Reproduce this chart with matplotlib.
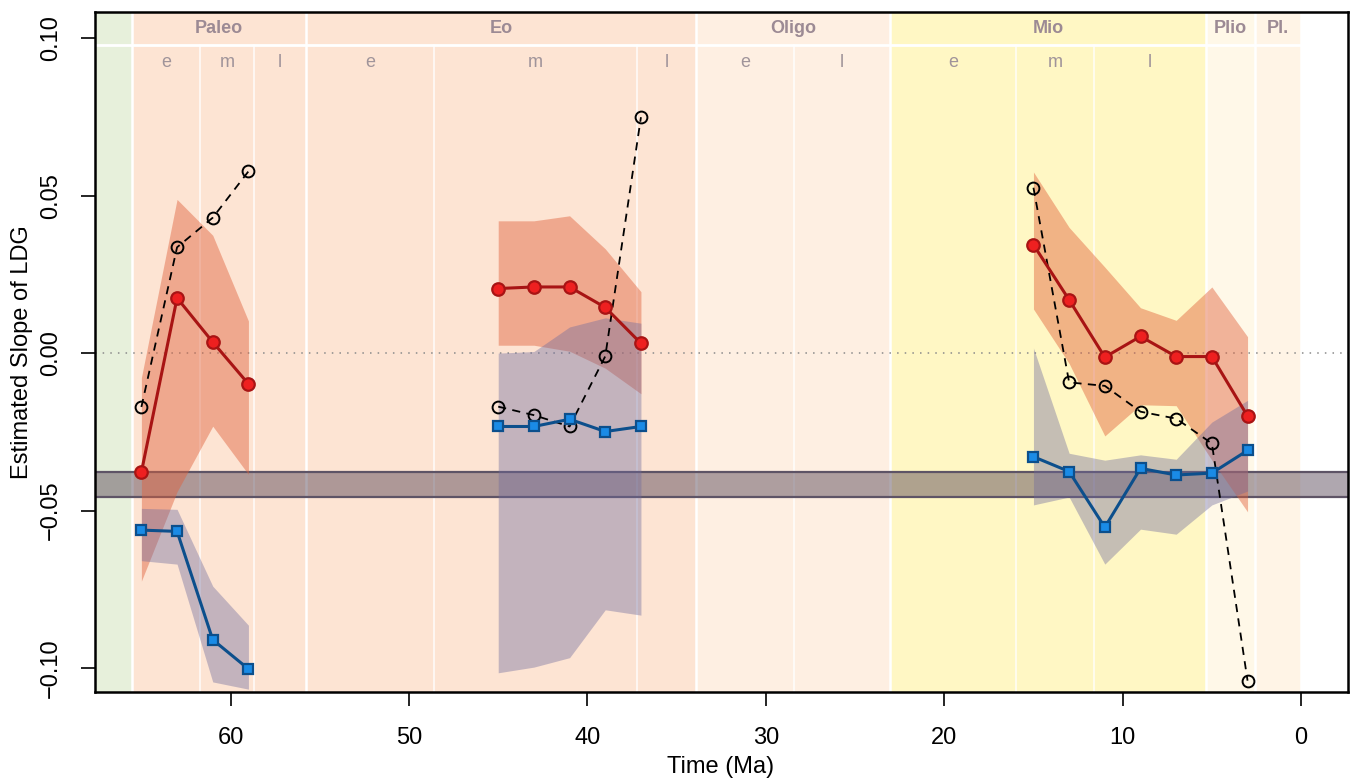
import matplotlib
matplotlib.use("Agg")
import matplotlib.pyplot as plt
from matplotlib.patches import Rectangle

plt.rcParams['font.family'] = ['Liberation Sans', 'DejaVu Sans']

# time bins (Ma), in three separate windows
timePaleo = [65, 63, 61, 59]
timeEo = [45, 43, 41, 39, 37]
timeMio = [15, 13, 11, 9, 7, 5, 3]

# red series (estimate + ribbon)
redPaleo = [-0.0378, 0.0175, 0.0035, -0.0098]
redEo = [0.0205, 0.0210, 0.0210, 0.0145, 0.0031]
redMio = [0.0344, 0.0169, -0.0013, 0.0053, -0.0011, -0.0011, -0.0200]
redHiPaleo = [-0.0078, 0.0488, 0.0374, 0.0102]
redHiEo = [0.0420, 0.0420, 0.0436, 0.0331, 0.0195]
redHiMio = [0.0575, 0.0399, 0.0273, 0.0144, 0.0104, 0.0210, 0.0052]
redLoPaleo = [-0.0724, -0.0440, -0.0232, -0.0385]
redLoEo = [0.0025, 0.0025, 0.0006, -0.0048, -0.0129]
redLoMio = [0.0140, -0.0033, -0.0263, -0.0164, -0.0167, -0.0340, -0.0504]

# blue series (estimate + ribbon)
bluePaleo = [-0.0562, -0.0566, -0.0910, -0.1003]
blueEo = [-0.0233, -0.0233, -0.0210, -0.0249, -0.0233]
blueMio = [-0.0329, -0.0376, -0.0553, -0.0366, -0.0387, -0.0381, -0.0309]
blueHiPaleo = [-0.0493, -0.0496, -0.0740, -0.0864]
blueHiEo = [0.0000, 0.0005, 0.0083, 0.0112, 0.0095]
blueHiMio = [0.0016, -0.0318, -0.0340, -0.0323, -0.0337, -0.0219, -0.0150]
blueLoPaleo = [-0.0659, -0.0670, -0.1044, -0.1067]
blueLoEo = [-0.1015, -0.0997, -0.0967, -0.0815, -0.0832]
blueLoMio = [-0.0482, -0.0457, -0.0670, -0.0559, -0.0575, -0.0482, -0.0438]

# black dashed series
rawPaleo = [-0.0171, 0.0336, 0.0430, 0.0577]
rawEo = [-0.0170, -0.0197, -0.0233, -0.0010, 0.0749]
rawMio = [0.0525, -0.0093, -0.0104, -0.0186, -0.0208, -0.0287, -0.1040]

# horizontal reference band
bandLow, bandHigh = -0.0457, -0.0378

# geologic time scale
epochNames = ['Paleo', 'Eo', 'Oligo', 'Mio', 'Plio', 'Pl.']
epochStart = [65.5, 55.8, 33.9, 23.03, 5.332, 2.588]
epochEnd = [55.8, 33.9, 23.03, 5.332, 2.588, 0.0]
epochColors = ['#FDE4D3', '#FDE4D3', '#FEEFE2', '#FFF7C4', '#FFF8E8', '#FFF4E6']
subBounds = [[65.5, 61.7, 58.7, 55.8], [55.8, 48.6, 37.2, 33.9],
             [33.9, 28.4, 23.03], [23.03, 15.97, 11.61, 5.332], [], []]
subNames = [['e', 'm', 'l'], ['e', 'm', 'l'], ['e', 'l'], ['e', 'm', 'l'], [], []]
cretColor = '#E7F0DB'

xLeft, xRight = 67.6, -2.63
yLow, yHigh = -0.1076, 0.1083
rowLine = 0.0978

fig = plt.figure(figsize=(13.55, 7.81), dpi=100)
ax = fig.add_axes([95 / 1355, 89 / 781, 1253 / 1355, 680 / 781])
ax.set_xlim(xLeft, xRight)
ax.set_ylim(yLow, yHigh)

# backgrounds
ax.add_patch(Rectangle((epochStart[0], yLow), xLeft - epochStart[0], yHigh - yLow,
                       facecolor=cretColor, edgecolor='none', zorder=0))
for i in range(len(epochNames)):
    ax.add_patch(Rectangle((epochEnd[i], yLow), epochStart[i] - epochEnd[i], yHigh - yLow,
                           facecolor=epochColors[i], edgecolor='none', zorder=0))
    ax.text((epochStart[i] + epochEnd[i]) / 2, 0.1031, epochNames[i], ha='center', va='center',
            fontsize=13, fontweight='bold', color='#9c8a94', zorder=1)
    bounds = subBounds[i]
    for j in range(len(subNames[i])):
        ax.text((bounds[j] + bounds[j + 1]) / 2, 0.0922, subNames[i][j], ha='center',
                va='center', fontsize=13, color='#a0949a', zorder=1)
    for b in bounds[1:-1]:
        ax.plot([b, b], [yLow, rowLine], color='white', lw=1.1, alpha=0.9, zorder=1)

for b in epochStart + [0.0]:
    ax.plot([b, b], [yLow, yHigh], color='white', lw=1.8, zorder=1)
ax.plot([xLeft, 0.0], [rowLine, rowLine], color='white', lw=2, zorder=1)

# zero line
ax.axhline(0, color='#8a8a8a', lw=1.1, ls=(0, (1, 4)), zorder=2)

# reference band
ax.axhspan(bandLow, bandHigh, facecolor='#4e3c4e', alpha=0.45, edgecolor='none', zorder=2)
ax.axhline(bandLow, color='#5e5466', lw=1.6, zorder=2)
ax.axhline(bandHigh, color='#5e5466', lw=1.6, zorder=2)

groups = [
    (timePaleo, redPaleo, redLoPaleo, redHiPaleo, bluePaleo, blueLoPaleo, blueHiPaleo, rawPaleo),
    (timeEo, redEo, redLoEo, redHiEo, blueEo, blueLoEo, blueHiEo, rawEo),
    (timeMio, redMio, redLoMio, redHiMio, blueMio, blueLoMio, blueHiMio, rawMio),
]

for t, red, redLo, redHi, blue, blueLo, blueHi, raw in groups:
    ax.fill_between(t, redLo, redHi, color='#e0603a', alpha=0.45, lw=0, zorder=3)
    ax.fill_between(t, blueLo, blueHi, color='#6e6a9e', alpha=0.4, lw=0, zorder=3)
for t, red, redLo, redHi, blue, blueLo, blueHi, raw in groups:
    ax.plot(t, raw, color='black', lw=1.3, ls=(0, (4.5, 3.5)), marker='o', markersize=8.5,
            markerfacecolor='none', markeredgecolor='black', markeredgewidth=1.4, zorder=4)
    ax.plot(t, red, color='#a81414', lw=2.2, marker='o', markersize=9,
            markerfacecolor='#ee2020', markeredgecolor='#a81414', markeredgewidth=1.6, zorder=5)
    ax.plot(t, blue, color='#0c4f8c', lw=2.2, marker='s', markersize=7.5,
            markerfacecolor='#1a8be6', markeredgecolor='#0c4f8c', markeredgewidth=1.6, zorder=5)

# axes styling
ax.set_xticks([60, 50, 40, 30, 20, 10, 0])
ax.set_yticks([0.10, 0.05, 0.00, -0.05, -0.10])
ax.set_yticklabels(['0.10', '0.05', '0.00', '\u22120.05', '\u22120.10'])
ax.tick_params(axis='both', labelsize=17, length=10, width=1.2, direction='out')
ax.tick_params(axis='x', pad=15)
ax.tick_params(axis='y', pad=14)
for lbl in ax.get_yticklabels():
    lbl.set_rotation(90)
    lbl.set_va('center')
for s in ax.spines.values():
    s.set_linewidth(1.8)
    s.set_zorder(6)

fig.text(721 / 1355, (781 - 767) / 781, 'Time (Ma)', ha='center', va='center', fontsize=17)
fig.text(22 / 1355, (781 - 352) / 781, 'Estimated Slope of LDG', ha='center', va='center',
         rotation=90, fontsize=17)

fig.savefig('out.png', dpi=100)
